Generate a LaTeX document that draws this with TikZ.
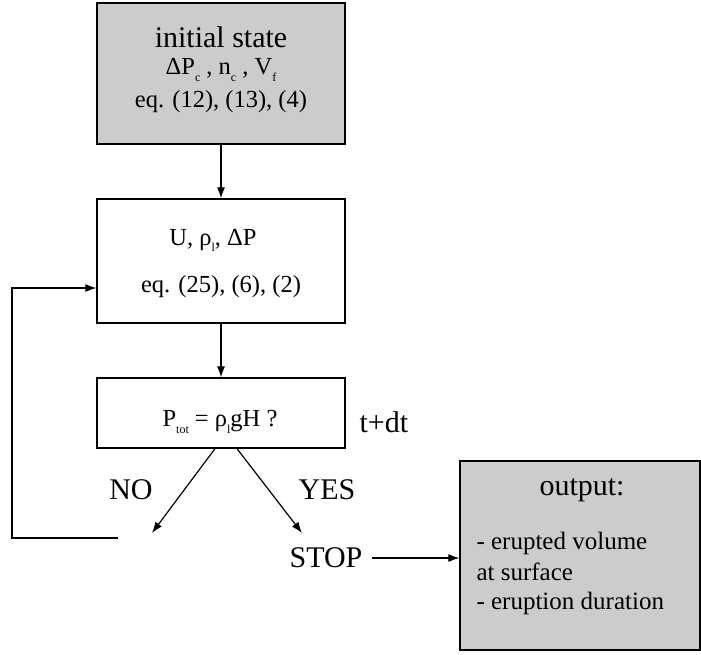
\documentclass[tikz,border=0pt]{standalone}
\usepackage{fontspec}
\setmainfont{Liberation Serif}
\usetikzlibrary{arrows.meta}

\definecolor{boxgray}{RGB}{204,204,204}
\newcommand{\dn}[1]{\raisebox{-0.55ex}{\fontsize{12}{12}\selectfont #1}}

\tikzset{
    block/.style = {
        draw,
        line width=1.3pt,
        rectangle,
        inner sep=0pt
    },
    shaded/.style = {
        block,
        fill=boxgray
    },
    flow/.style = {
        line width=1.2pt,
        -{Latex[length=11pt,width=8pt]}
    },
    bigtext/.style = {
        font=\fontsize{30}{34}\selectfont
    },
    midtext/.style = {
        font=\fontsize{24.5}{28}\selectfont
    },
    listtext/.style = {
        font=\fontsize{25}{29}\selectfont,
        anchor=west
    }
}

\begin{document}
\begin{tikzpicture}[x=1pt, y=-1pt]
    \useasboundingbox (0,0) rectangle (701,654);

    % Draw boxes
    \node[shaded, minimum width=248pt, minimum height=141pt] (init) at (221,73.5) {};
    \node[block, minimum width=248pt, minimum height=124pt] (calc) at (221,261) {};
    \node[block, minimum width=248pt, minimum height=70pt] (test) at (221,413) {};
    \node[shaded, minimum width=240pt, minimum height=189pt] (out) at (580,555.5) {};

    % Draw texts
    \node[bigtext] (inittitle) at (221,37) {initial state};
    \node[midtext] (initvars) at (221,70) {ΔP\dn{c} , n\dn{c} , V\dn{f}};
    \node[midtext] (initeq) at (221,102) {eq. (12), (13), (4)};
    \node[midtext] (calcvars) at (213,240) {U, ρ\dn{l}, ΔP};
    \node[midtext] (calceq) at (221,287) {eq. (25), (6), (2)};
    \node[midtext] (testeq) at (220,422) {P\dn{tot} = ρ\dn{l}gH ?};
    \node[bigtext, anchor=west] (step) at (356,422) {t+dt};
    \node[bigtext] (no) at (131,490) {NO};
    \node[bigtext] (yes) at (327,490) {YES};
    \node[bigtext] (stop) at (326,558) {STOP};
    \node[bigtext] (outtitle) at (582,490) {output:};
    \node[listtext] (outvol) at (473,543) {- erupted volume};
    \node[listtext] (outsurf) at (473,572) {at surface};
    \node[listtext] (outdur) at (473,603) {- eruption duration};

    % Draw arrows
    \coordinate (noend) at (152,533);
    \coordinate (yesend) at (302,533);
    \coordinate (loopa) at (118,538);
    \coordinate (loopb) at (12,538);
    \coordinate (loopc) at (12,288);

    \draw[flow] (init) -- (calc);
    \draw[flow] (calc) -- (test);
    \draw[flow] (test.south -| 215,0) -- (noend);
    \draw[flow] (test.south -| 237,0) -- (yesend);
    \draw[flow] (loopa) -- (loopb) -- (loopc) -- (calc.west |- loopc);
    \draw[flow] (stop.east) ++(6,0) -- (out.west |- stop.east);
\end{tikzpicture}
\end{document}
